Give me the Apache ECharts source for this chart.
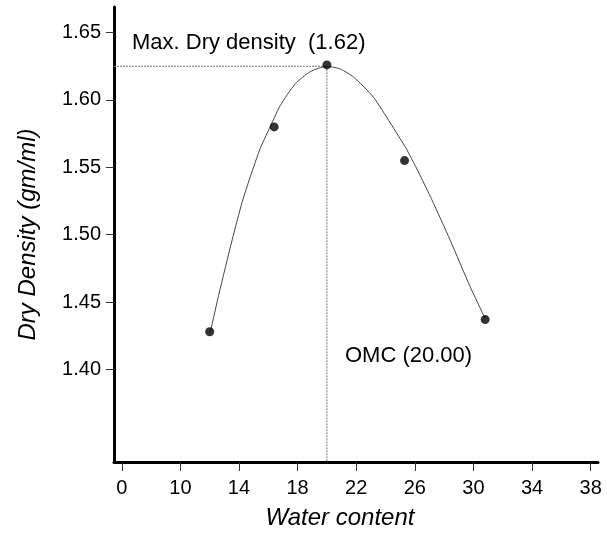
<!DOCTYPE html>
<html>
<head>
<meta charset="utf-8">
<script src="https://cdn.jsdelivr.net/npm/echarts@6/dist/echarts.min.js"></script>
<style>
  html, body { margin: 0; padding: 0; background: #fff; }
  #chart { width: 607px; height: 534px; }
</style>
</head>
<body>
<div id="chart"></div>
<script>
// Compaction test: measured points
const waterContent = [12.0, 16.4, 20.0, 25.3, 30.8];
const dryDensity   = [1.428, 1.580, 1.626, 1.555, 1.437];

// Fitted compaction curve, sampled along its trace
const curveX = [12.05, 12.61, 13.53, 14.21, 14.77, 15.45, 16.25, 16.82, 17.84, 18.86, 20.0,
                20.91, 21.82, 23.18, 24.32, 25.46, 26.36, 27.16, 28.41, 29.77, 30.79];
const curveY = [1.428, 1.455, 1.496, 1.524, 1.543, 1.564, 1.583, 1.596, 1.612, 1.621, 1.625,
                1.623, 1.617, 1.602, 1.583, 1.563, 1.544, 1.526, 1.496, 1.4615, 1.438];

// Optimum moisture content and maximum dry density
const omc = 20.0;
const maxDryDensity = 1.625;

// Axis ticks (the first x tick stands for the broken origin)
const xTickValues = [6, 10, 14, 18, 22, 26, 30, 34, 38];
const xTickLabels = ['0', '10', '14', '18', '22', '26', '30', '34', '38'];
const yTickValues = [1.40, 1.45, 1.50, 1.55, 1.60, 1.65];

const xMin = 5.47, xMax = 38.5;
const yMin = 1.3313, yMax = 1.669;

const FONT = '"Liberation Sans", Arial, sans-serif';

const chart = echarts.init(document.getElementById('chart'), null, { renderer: 'canvas' });

chart.setOption({
  animation: false,
  backgroundColor: '#ffffff',
  grid: { left: 114, right: 9, top: 7, bottom: 72, containLabel: false, outerBoundsMode: 'none' },
  xAxis: {
    type: 'value',
    min: xMin, max: xMax,
    name: 'Water content',
    nameLocation: 'middle',
    nameGap: 44,
    nameTextStyle: { fontFamily: FONT, fontSize: 24, fontStyle: 'italic', color: '#000', padding: [0, 32, 0, 0] },
    axisLine: { show: true, onZero: false, lineStyle: { color: '#000', width: 3 } },
    axisTick: { show: true, length: 9, customValues: xTickValues, lineStyle: { color: '#333', width: 1 } },
    axisLabel: {
      customValues: xTickValues,
      margin: 16,
      fontFamily: FONT, fontSize: 20, color: '#000',
      formatter: v => {
        const i = xTickValues.findIndex(t => Math.abs(t - v) < 1e-6);
        return i >= 0 ? xTickLabels[i] : '';
      }
    },
    splitLine: { show: false }
  },
  yAxis: {
    type: 'value',
    min: yMin, max: yMax,
    name: 'Dry Density (gm/ml)',
    nameLocation: 'middle',
    nameGap: 74,
    nameRotate: 90,
    nameTextStyle: { fontFamily: FONT, fontSize: 24, fontStyle: 'italic', color: '#000' },
    axisLine: { show: true, onZero: false, lineStyle: { color: '#000', width: 3 } },
    axisTick: { show: true, length: 8, customValues: yTickValues, lineStyle: { color: '#333', width: 1 } },
    axisLabel: {
      customValues: yTickValues,
      margin: 13,
      fontFamily: FONT, fontSize: 20, color: '#000',
      formatter: v => v.toFixed(2)
    },
    splitLine: { show: false }
  },
  series: [
    {
      name: 'max-density guide',
      type: 'line',
      data: [[xMin, maxDryDensity], [omc, maxDryDensity]],
      symbol: 'none',
      lineStyle: { color: '#777', width: 1, type: [2, 1] },
      silent: true, z: 1
    },
    {
      name: 'omc guide',
      type: 'line',
      data: [[omc, maxDryDensity], [omc, yMin]],
      symbol: 'none',
      lineStyle: { color: '#777', width: 1, type: [2, 1] },
      silent: true, z: 1
    },
    {
      name: 'curve',
      type: 'line',
      data: curveX.map((x, i) => [x, curveY[i]]),
      symbol: 'none',
      smooth: 0.2,
      lineStyle: { color: '#444', width: 1 },
      z: 2
    },
    {
      name: 'tests',
      type: 'scatter',
      data: waterContent.map((x, i) => [x, dryDensity[i]]),
      symbol: 'circle',
      symbolSize: 9,
      itemStyle: { color: '#000' },
      z: 3
    }
  ],
  graphic: [
    {
      type: 'text',
      x: 132, y: 43,
      style: {
        text: 'Max. Dry density  (1.62)',
        font: '22px ' + FONT,
        fill: '#000',
        verticalAlign: 'middle',
        textVerticalAlign: 'middle'
      }
    },
    {
      type: 'text',
      x: 345, y: 356,
      style: {
        text: 'OMC (20.00)',
        font: '22px ' + FONT,
        fill: '#000',
        verticalAlign: 'middle',
        textVerticalAlign: 'middle'
      }
    }
  ]
});
</script>
</body>
</html>
